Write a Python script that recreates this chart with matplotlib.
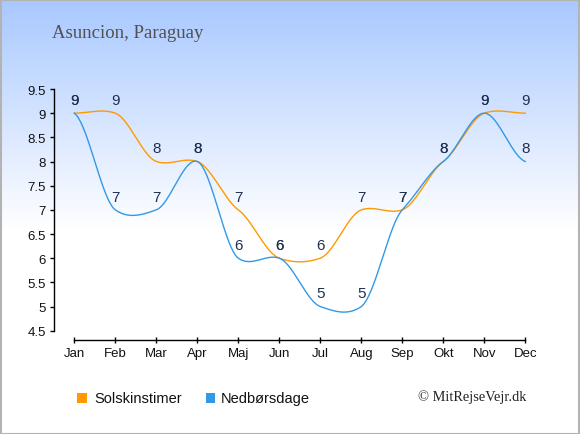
import numpy as np
import matplotlib
matplotlib.use("Agg")
import matplotlib.pyplot as plt
from matplotlib.patches import Rectangle

months = ["Jan", "Feb", "Mar", "Apr", "Maj", "Jun", "Jul", "Aug", "Sep", "Okt", "Nov", "Dec"]
sun = [9, 9, 8, 8, 7, 6, 6, 7, 7, 8, 9, 9]
rain = [9, 7, 7, 8, 6, 6, 5, 5, 7, 8, 9, 8]
yticks = [4.5, 5, 5.5, 6, 6.5, 7, 7.5, 8, 8.5, 9, 9.5]
ytick_labels = ["4.5", "5", "5.5", "6", "6.5", "7", "7.5", "8", "8.5", "9", "9.5"]
title = "Asuncion, Paraguay"
series_names = ["Solskinstimer", "Nedbørsdage"]
colors = ["#ff9900", "#3399e6"]
copyright_text = "© MitRejseVejr.dk"

W, H = 580, 435
fig = plt.figure(figsize=(W / 100, H / 100), dpi=100)

# background gradient
bg = fig.add_axes([0, 0, 1, 1], zorder=-10)
rows = np.arange(H)
f = np.clip(rows / 230.0, 0, 1)
top = np.array([168, 200, 255]) / 255.0
bot = np.array([255, 255, 255]) / 255.0
grad = top[None, :] * (1 - f[:, None]) + bot[None, :] * f[:, None]
img = np.repeat(grad[:, None, :], 10, axis=1)
bg.imshow(img, aspect="auto", extent=[0, 1, 0, 1])
bg.set_axis_off()


def smooth(y, k=0.6, n=40):
    y = np.asarray(y, float)
    N = len(y)
    m = np.zeros(N)
    for i in range(N):
        a = y[max(i - 1, 0)]
        b = y[min(i + 1, N - 1)]
        m[i] = k * (b - a) / 2.0
    xs, ys = [], []
    for i in range(N - 1):
        t = np.linspace(0, 1, n, endpoint=(i == N - 2))
        h00 = 2 * t**3 - 3 * t**2 + 1
        h10 = t**3 - 2 * t**2 + t
        h01 = -2 * t**3 + 3 * t**2
        h11 = t**3 - t**2
        ys.append(h00 * y[i] + h10 * m[i] + h01 * y[i + 1] + h11 * m[i + 1])
        xs.append(i + t)
    return np.concatenate(xs), np.concatenate(ys)


# axes placement in pixel terms
L, R, T, B = 54.3, 540.0, 80.0, 341.3
x_jan, dx = 74.3, 41.0
y95, dy = 90.0, 48.34
ax = fig.add_axes([L / W, 1 - B / H, (R - L) / W, (B - T) / H])
ax.set_xlim((L - x_jan) / dx, (R - x_jan) / dx)
ax.set_ylim(9.5 - (B - y95) / dy, 9.5 + (y95 - T) / dy)
ax.patch.set_alpha(0)

for s in ["top", "right"]:
    ax.spines[s].set_visible(False)
ax.spines["left"].set_bounds(4.5, 9.5)
ax.spines["bottom"].set_bounds(0, 11)
for s in ["left", "bottom"]:
    ax.spines[s].set_linewidth(1.0)
    ax.spines[s].set_color("black")

ax.set_yticks(yticks)
ax.set_yticklabels(ytick_labels)
ax.set_xticks(range(len(months)))
ax.set_xticklabels(months)
ax.tick_params(axis="y", direction="out", length=3, width=1, pad=3.2,
               labelsize=9.5, labelcolor="#111111")
ax.tick_params(axis="x", direction="inout", length=4, width=1, pad=3.0,
               labelsize=9.5, labelcolor="#111111")
for lab in ax.get_xticklabels() + ax.get_yticklabels():
    lab.set_fontfamily("Liberation Sans")

x = np.arange(len(months))
for vals, c in zip([sun, rain], colors):
    sx, sy = smooth(vals)
    ax.plot(sx, sy, color=c, lw=1.0, clip_on=False, zorder=3)
    for xi, v in zip(x, vals):
        ax.annotate(str(v), (xi, v), xytext=(0, 9.4), textcoords="offset points",
                    ha="center", va="center", fontsize=11, color="#1f3050",
                    family="Liberation Sans", zorder=4)

# title
fig.text(51.7 / W, 1 - 37.7 / H, title, ha="left", va="baseline",
         fontsize=13.5, color="#505050", family="Liberation Serif")

# legend
for i, (name, c, sxp, txp) in enumerate(zip(series_names, colors, [77.3, 205.7], [94.3, 221.0])):
    fig.patches.append(Rectangle((sxp / W, 1 - 404 / H), 9.4 / W, 10 / H,
                                 transform=fig.transFigure, facecolor=c,
                                 edgecolor="none"))
    fig.text(txp / W, 1 - 399 / H, name, ha="left", va="center", fontsize=10.5,
             color="#111111", family="Liberation Sans")

fig.text(526 / W, 1 - 397.5 / H, copyright_text, ha="right", va="center",
         fontsize=10.4, color="#222222", family="Liberation Serif")

# border
fig.patches.append(Rectangle((0.5 / W, 0.5 / H), 1 - 1.5 / W, 1 - 1.5 / H,
                             transform=fig.transFigure, facecolor="none",
                             edgecolor="#b3b3b3", lw=1.5, zorder=20))

fig.savefig("out.png", dpi=100)
